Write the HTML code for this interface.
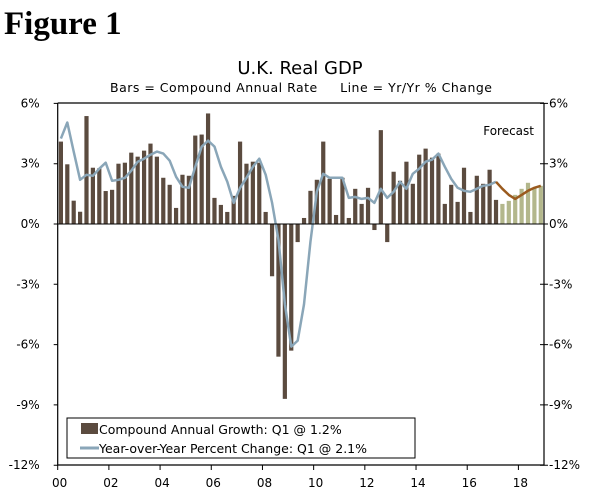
<!DOCTYPE html>
<html><head><meta charset="utf-8"><style>
body{margin:0;background:#fff;width:600px;height:498px;overflow:hidden}
svg{display:block}
text{font-family:"DejaVu Sans","Liberation Sans",sans-serif;fill:#000}
</style></head><body>
<svg id="chart" width="600" height="498">
<text x="4" y="34" style="font-family:'Liberation Serif',serif;font-weight:bold;font-size:33px">Figure 1</text>
<text x="300" y="74" text-anchor="middle" font-size="18">U.K. Real GDP</text>
<text x="301" y="92" text-anchor="middle" font-size="12.5" textLength="382" xml:space="preserve">Bars = Compound Annual Rate     Line = Yr/Yr % Change</text>
<text x="534" y="135" text-anchor="end" font-size="12">Forecast</text>
<g id="g"></g>
</svg>
<script>
const quarters = 76; // 2000Q1..2018Q4
const barValues = [4.1,2.97,1.16,0.61, 5.37,2.8,2.77,1.64, 1.7,3.0,3.05,3.55, 3.35,3.65,4.0,3.35, 2.3,1.95,0.8,2.45, 2.4,4.4,4.45,5.5, 1.3,0.95,0.6,1.4, 4.1,3.0,3.1,3.05, 0.6,-2.6,-6.6,-8.7, -6.3,-0.9,0.3,1.65, 2.2,4.1,2.25,0.45, 2.3,0.3,1.75,1.0, 1.8,-0.3,4.67,-0.9, 2.6,2.15,3.1,2.0, 3.45,3.75,3.3,3.5, 1.0,1.95,1.1,2.8, 0.6,2.4,2.0,2.7, 1.2,1.0,1.15,1.45, 1.75,2.05,1.8,1.9];
const lineValues = [4.25,5.05,3.6,2.2, 2.45,2.4,2.75,3.05, 2.15,2.2,2.3,2.65, 3.1,3.25,3.45,3.6, 3.5,3.15,2.35,1.85, 1.8,2.85,3.85,4.15, 3.85,2.85,2.1,1.05, 1.8,2.3,2.85,3.25, 2.45,1.05,-0.8,-4.0, -6.1,-5.8,-4.0,-0.9, 1.6,2.5,2.3,2.3, 2.3,1.3,1.35,1.25, 1.3,1.05,1.75,1.3, 1.6,2.1,1.75,2.5, 2.75,3.1,3.2,3.5, 2.85,2.25,1.8,1.65, 1.6,1.75,1.9,1.95, 2.1,1.75,1.45,1.25, 1.45,1.65,1.8,1.9];
const forecastStart = 69;
const yTicks = [6,3,0,-3,-6,-9,-12];
const yTickLabels = ["6%","3%","0%","-3%","-6%","-9%","-12%"];
const xTickLabels = ["00","02","04","06","08","10","12","14","16","18"];

const L=57.7,R=544,T=103,B=465;
const y=v=>224-(v)*20.1;
const qw=(R-L)/quarters;
const xc=i=>L+qw*(i+0.5);
const g=document.getElementById('g');
const NS='http://www.w3.org/2000/svg';
function mk(t,a){const e=document.createElementNS(NS,t);for(const k in a)e.setAttribute(k,a[k]);g.appendChild(e);return e;}

barValues.forEach((v,i)=>{
  const r=mk('rect',{x:xc(i)-2.1,y:Math.min(y(v),y(0)),width:4.2,height:Math.abs(y(v)-y(0)),fill:i>=forecastStart?'#b3b78c':'#5b4b3f'});
  
  
});
let p1='',p2='';
lineValues.forEach((v,i)=>{
  if(i<=forecastStart-1) p1+=(i?'L':'M')+xc(i).toFixed(1)+','+y(v).toFixed(1);
  if(i>=forecastStart-1) p2+=(i==forecastStart-1?'M':'L')+xc(i).toFixed(1)+','+y(v).toFixed(1);
});
const l1=mk('path',{d:p1,fill:'none',stroke:'#8aa6b8','stroke-width':2.5,'stroke-linejoin':'round'});


const l2=mk('path',{d:p2,fill:'none',stroke:'#9a5a1e','stroke-width':2.5,'stroke-linejoin':'round'});



const z=mk('line',{x1:L,x2:R,y1:y(0),y2:y(0),stroke:'#000','stroke-width':1});


const fr=mk('path',{d:`M${L},${T}H${R}M${L},${T}V${B}H${R}V${T}`,fill:'none',stroke:'#000','stroke-width':1.2});



yTicks.forEach((v,i)=>{
  mk('path',{d:`M${L-4},${y(v)}H${L}M${R-4},${y(v)}H${R+4}`,stroke:'#000'});
  const a=mk('text',{x:L-18,y:y(v)+4,'text-anchor':'end','font-size':12});
  a.textContent=yTickLabels[i];
  
  
  const b=mk('text',{x:R+5,y:y(v)+4,'font-size':12});
  b.textContent=yTickLabels[i];
  
  
});
xTickLabels.forEach((s,i)=>{
  const x=L+qw*8*i;
  mk('line',{x1:x,x2:x,y1:B,y2:B+5,stroke:'#000'});
  const t=mk('text',{x:x+2,y:B+22,'text-anchor':'middle','font-size':12});
  t.textContent=s;
  
  
});
const lg=mk('rect',{x:67,y:418,width:348,height:40,fill:'#fff',stroke:'#000'});


mk('rect',{x:81,y:423,width:17,height:11,fill:'#5b4b3f'});
mk('line',{x1:80,x2:99,y1:448,y2:448,stroke:'#8aa6b8','stroke-width':3});
const t1=mk('text',{x:99,y:434,'font-size':12.5});t1.textContent='Compound Annual Growth: Q1 @ 1.2%';


const t2=mk('text',{x:99,y:453,'font-size':12.5});t2.textContent='Year-over-Year Percent Change: Q1 @ 2.1%';


</script>
</body></html>
